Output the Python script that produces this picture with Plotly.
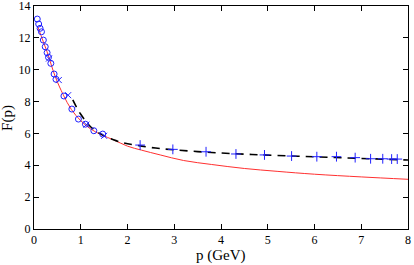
import plotly.graph_objects as go

# Red solid curve
red_p = [0.08, 0.2, 0.3, 0.45, 0.63, 0.8, 1.0, 1.2, 1.45, 1.7, 2.0, 2.3, 2.7, 3.2, 3.8, 4.5, 5.2, 6.0, 7.0, 8.0]
red_F = [12.7, 11.75, 10.95, 9.6, 8.4, 7.5, 6.8, 6.3, 5.9, 5.6, 5.2, 4.95, 4.65, 4.3, 4.05, 3.8, 3.62, 3.44, 3.27, 3.12]

# Black dashed curve
blk_p = [0.83, 0.9, 1.0, 1.1, 1.2, 1.35, 1.5, 1.7, 1.9, 2.2, 2.6, 3.0, 3.5, 4.0, 4.5, 5.0, 6.0, 7.0, 8.0]
blk_F = [8.1, 7.7, 7.2, 6.8, 6.45, 6.1, 5.85, 5.6, 5.42, 5.25, 5.08, 4.97, 4.86, 4.77, 4.7, 4.64, 4.53, 4.43, 4.33]

# Blue open circles
circ_p = [0.07, 0.10, 0.13, 0.16, 0.20, 0.24, 0.28, 0.31, 0.36, 0.43, 0.47, 0.64, 0.81, 0.95, 1.10, 1.28, 1.47]
circ_F = [13.18, 12.87, 12.6, 12.38, 11.86, 11.44, 11.07, 10.78, 10.4, 9.73, 9.4, 8.35, 7.53, 6.9, 6.58, 6.17, 5.96]

# Blue crosses at low p
xlow_p = [0.32, 0.53, 0.73, 1.12, 1.5]
xlow_F = [10.7, 9.35, 8.4, 6.55, 5.85]

# Blue plus markers
plus_p = [2.27, 2.97, 3.68, 4.32, 4.93, 5.51, 6.05, 6.47, 6.87, 7.2, 7.46, 7.65, 7.77]
plus_F = [5.27, 5.0, 4.85, 4.71, 4.65, 4.58, 4.54, 4.54, 4.48, 4.41, 4.41, 4.39, 4.39]

x_ticks = [0, 1, 2, 3, 4, 5, 6, 7, 8]
y_ticks = [0, 2, 4, 6, 8, 10, 12, 14]

fig = go.Figure()
fig.add_trace(go.Scatter(x=red_p, y=red_F, mode="lines", line=dict(color="#ff3030", width=1, shape="spline"), hoverinfo="skip"))
fig.add_trace(go.Scatter(x=blk_p, y=blk_F, mode="lines", line=dict(color="black", width=1.6, dash="8px,6px", shape="spline")))
fig.add_trace(go.Scatter(x=circ_p, y=circ_F, mode="markers",
                         marker=dict(symbol="circle-open", size=6, color="#2020ff", line=dict(width=1))))
fig.add_trace(go.Scatter(x=xlow_p, y=xlow_F, mode="markers",
                         marker=dict(symbol="x-thin-open", size=6, color="#2020ff", line=dict(width=1, color="#2020ff"))))
fig.add_trace(go.Scatter(x=plus_p, y=plus_F, mode="markers",
                         marker=dict(symbol="cross-thin-open", size=7, color="#2020ff", line=dict(width=1, color="#2020ff"))))

axis_common = dict(showgrid=False, zeroline=False, showline=True, linecolor="black", linewidth=1,
                   mirror="ticks", ticks="inside", ticklen=5, tickcolor="black", automargin=False,
                   ticklabeloverflow="allow",
                   tickfont=dict(family="Liberation Serif", size=12, color="black"))
fig.update_xaxes(range=[0, 8], tickvals=x_ticks, ticktext=[str(v) for v in x_ticks], **axis_common)
fig.update_yaxes(range=[0, 14], tickvals=y_ticks, ticktext=[str(v) for v in y_ticks], **axis_common)
fig.add_annotation(text="p (GeV)", xref="paper", yref="paper", x=0.5, y=-0.072, yanchor="top", showarrow=False,
                   font=dict(family="Liberation Serif", size=15, color="black"))
fig.add_annotation(text="F(p)", xref="paper", yref="paper", x=-0.043, y=0.5, xanchor="right", textangle=-90,
                   showarrow=False, font=dict(family="Liberation Serif", size=15, color="black"))
fig.update_layout(width=414, height=265, showlegend=False, plot_bgcolor="white", paper_bgcolor="white",
                  margin=dict(l=34, r=6, t=6, b=36))
fig.write_html("out.html", config={"displayModeBar": False},
               post_script="document.body.style.margin='0';document.body.style.overflow='hidden';")
